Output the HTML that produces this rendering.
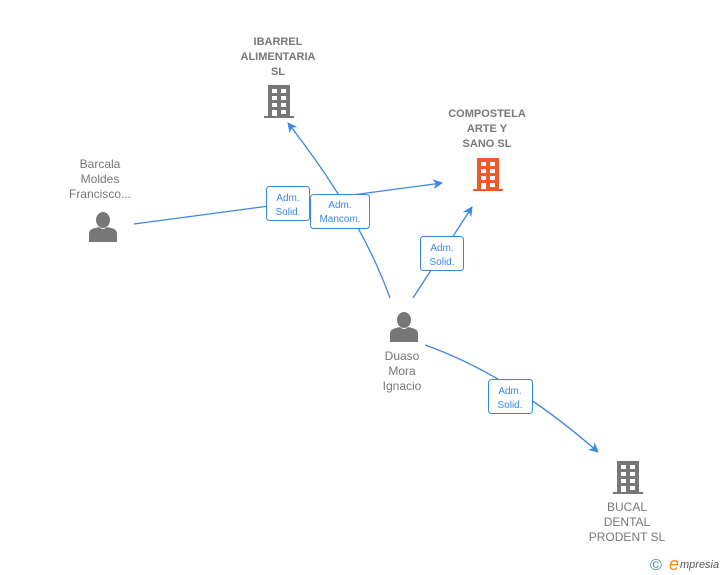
<!DOCTYPE html>
<html><head><meta charset="utf-8"><style>
html,body{margin:0;padding:0;background:#fff;width:728px;height:575px;overflow:hidden}
text{font-family:"Liberation Sans",Arial,sans-serif}
</style></head><body>
<svg width="728" height="575" viewBox="0 0 728 575" xmlns="http://www.w3.org/2000/svg">
<defs>
<marker id="ah" markerWidth="10" markerHeight="10" refX="9" refY="5" orient="auto" markerUnits="userSpaceOnUse">
<path d="M0,0 L10,5 L0,10 L3,5 Z" fill="#3a87e0"/>
</marker>
<g id="bld">
<rect x="4" y="0" width="22" height="32"/>
<rect x="0" y="31" width="30" height="2"/>
</g>
<g id="win" fill="#fff">
<rect x="8" y="4" width="5" height="4"/><rect x="17" y="4" width="5" height="4"/>
<rect x="8" y="11" width="5" height="4"/><rect x="17" y="11" width="5" height="4"/>
<rect x="8" y="18" width="5" height="4"/><rect x="17" y="18" width="5" height="4"/>
<rect x="8" y="25" width="5" height="6"/><rect x="17" y="25" width="5" height="4"/>
</g>
<g id="person">
<ellipse cx="0" cy="-8" rx="7" ry="8"/>
<path d="M-14,14 L-14,6 Q-14,1 -8,0 L-4,-1 Q0,3 4,-1 L8,0 Q14,1 14,6 L14,14 Z"/>
</g>
</defs>
<g stroke="#3a87e0" stroke-width="1.3" fill="none">
<line x1="134" y1="224" x2="442" y2="183" marker-end="url(#ah)"/>
<path d="M390,298 Q360,215 288,123" marker-end="url(#ah)"/>
<line x1="413" y1="298" x2="472" y2="207" marker-end="url(#ah)"/>
<path d="M425,345 Q510,375 598,452" marker-end="url(#ah)"/>
</g>
<g fill="#777">
<g transform="translate(264,85)"><use href="#bld"/><use href="#win"/></g>
<g transform="translate(613,461)"><use href="#bld"/><use href="#win"/></g>
<g transform="translate(103,228)"><use href="#person"/></g>
<g transform="translate(404,328)"><use href="#person"/></g>
</g>
<g fill="#f05a28"><g transform="translate(473,158)"><use href="#bld"/><use href="#win"/></g></g>
<g fill="#fff" stroke="#3a87e0" stroke-width="1">
<rect x="266.5" y="186.5" width="43" height="34" rx="3"/>
<rect x="310.5" y="194.5" width="59" height="34" rx="3"/>
<rect x="420.5" y="236.5" width="43" height="34" rx="3"/>
<rect x="488.5" y="379.5" width="44" height="34" rx="3"/>
</g>
<g fill="#3a87e0" font-size="10" text-anchor="middle">
<text x="288" y="201">Adm.</text><text x="288" y="215">Solid.</text>
<text x="340" y="208">Adm.</text><text x="340" y="222">Mancom.</text>
<text x="442" y="251">Adm.</text><text x="442" y="265">Solid.</text>
<text x="510" y="394">Adm.</text><text x="510" y="408">Solid.</text>
</g>
<g fill="#777" font-size="11" text-anchor="middle" font-weight="bold">
<text x="278" y="45">IBARREL</text><text x="278" y="60">ALIMENTARIA</text><text x="278" y="75">SL</text>
<text x="487" y="117">COMPOSTELA</text><text x="487" y="132">ARTE Y</text><text x="487" y="147">SANO  SL</text>
</g>
<g fill="#777" font-size="12" text-anchor="middle">
<text x="100" y="168">Barcala</text><text x="100" y="183">Moldes</text><text x="100" y="198">Francisco...</text>
<text x="402" y="360">Duaso</text><text x="402" y="375">Mora</text><text x="402" y="390">Ignacio</text>
<text x="627" y="511">BUCAL</text><text x="627" y="526">DENTAL</text><text x="627" y="541">PRODENT SL</text>
</g>
<text x="650" y="570" fill="#3a87a0" font-size="16">©</text>
<text x="669" y="570" fill="#f39200" font-size="18" font-style="italic" font-family="Liberation Serif,serif">e</text>
<text x="680" y="568" fill="#555" font-size="11" font-style="italic">mpresia</text>
</svg>
</body></html>
